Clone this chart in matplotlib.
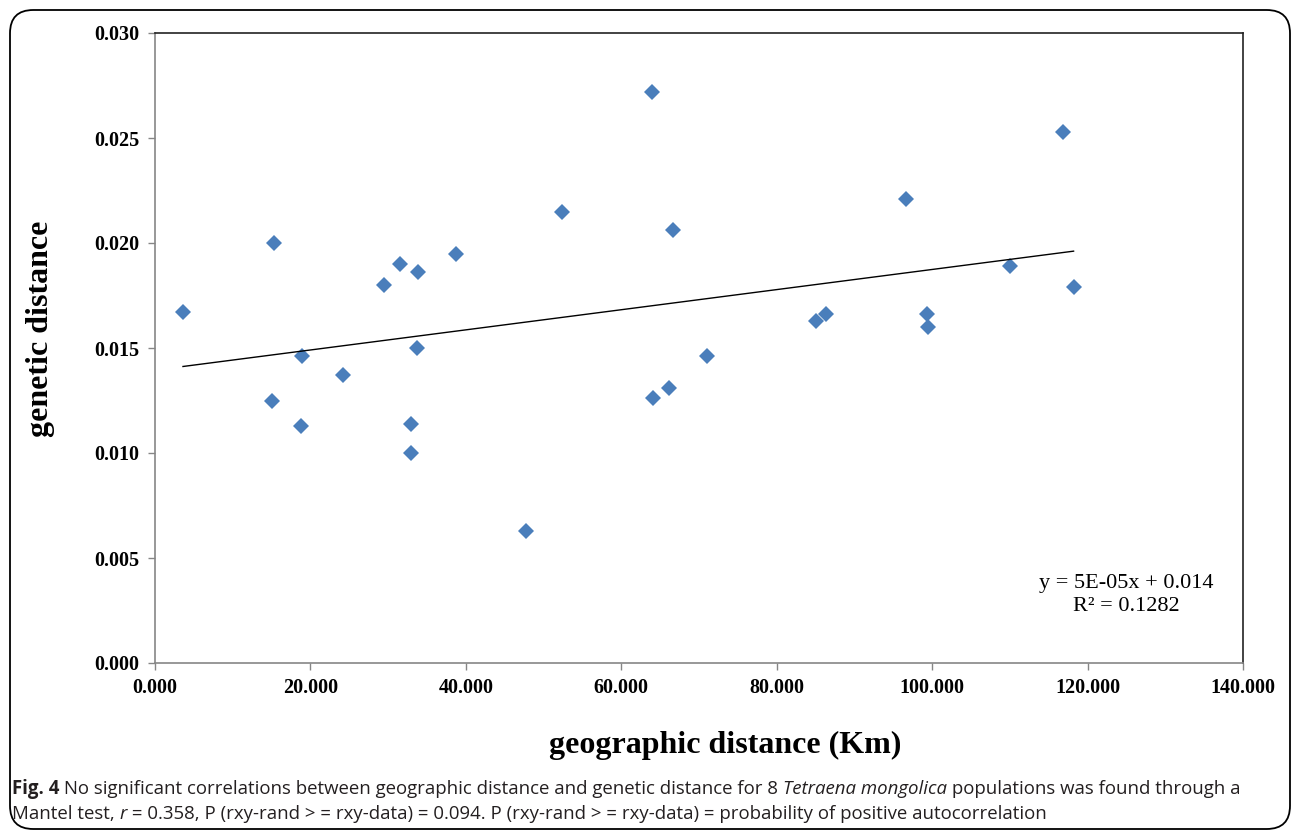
import numpy as np
import matplotlib
matplotlib.use('Agg')
import matplotlib.pyplot as plt
from matplotlib.patches import FancyBboxPatch
from matplotlib.ticker import FormatStrFormatter

# pairwise distances between the 8 populations
geo_dist = [3.6, 15.3, 15.0, 18.8, 18.9, 24.2, 29.5, 31.5, 33.9, 33.7,
            32.9, 32.9, 38.7, 64.0, 52.4, 66.7, 71.0, 66.2, 64.1, 47.8,
            116.8, 96.7, 85.0, 86.3, 99.3, 99.5, 110.0, 118.2]
gen_dist = [0.0167, 0.0200, 0.0125, 0.0113, 0.0146, 0.0137, 0.0180, 0.0190,
            0.0186, 0.0150, 0.0114, 0.0100, 0.0195, 0.0272, 0.0215, 0.0206,
            0.0146, 0.0131, 0.0126, 0.0063, 0.0253, 0.0221, 0.0163, 0.0166,
            0.0166, 0.0160, 0.0189, 0.0179]

x_ticks = [0, 20, 40, 60, 80, 100, 120, 140]
y_ticks = [0.0, 0.005, 0.010, 0.015, 0.020, 0.025, 0.030]
eq_text = 'y = 5E-05x + 0.014\nR\u00b2 = 0.1282'

W, H = 1293, 831
fig = plt.figure(figsize=(W / 100, H / 100), dpi=100)

# outer rounded frame
frame = FancyBboxPatch((10 / W, 2 / H), 1280 / W, 819 / H,
                       boxstyle='round,pad=0,rounding_size=0.018',
                       transform=fig.transFigure, fill=False,
                       edgecolor='black', linewidth=1.3, mutation_aspect=W / H)
fig.patches.append(frame)

ax = fig.add_axes([155 / W, (H - 663) / H, (1243 - 155) / W, (663 - 33) / H])

ax.plot(geo_dist, gen_dist, linestyle='none', marker='D', markersize=8,
        color='#4a7ebb', markeredgewidth=0)

# linear trend line
slope, icpt = np.polyfit(geo_dist, gen_dist, 1)
xs = np.array([min(geo_dist), max(geo_dist)])
ax.plot(xs, slope * xs + icpt, color='black', linewidth=1)

ax.set_xlim(0, 140)
ax.set_ylim(0, 0.030)
ax.set_xticks(x_ticks)
ax.set_yticks(y_ticks)
ax.xaxis.set_major_formatter(FormatStrFormatter('%.3f'))
ax.yaxis.set_major_formatter(FormatStrFormatter('%.3f'))

serif = 'Liberation Serif'
for lab in ax.get_xticklabels() + ax.get_yticklabels():
    lab.set_fontfamily(serif)
    lab.set_fontweight('bold')
    lab.set_fontsize(14.5)
ax.tick_params(direction='out', length=5, width=1, color='#868686', pad=6)

for s in ['left', 'bottom']:
    ax.spines[s].set_color('#868686')
    ax.spines[s].set_linewidth(1.2)
for s in ['top', 'right']:
    ax.spines[s].set_color('#222222')
    ax.spines[s].set_linewidth(1.2)

ax.set_xlabel('geographic distance (Km)', fontfamily=serif, fontweight='bold',
              fontsize=23)
ax.set_ylabel('genetic distance', fontfamily=serif, fontweight='bold',
              fontsize=23)
ax.xaxis.set_label_coords(0.524, -0.108)
ax.yaxis.set_label_coords(-0.092, 0.53)

fig.text(1126 / W, 1 - 595 / H, eq_text, ha='center', va='center',
         fontfamily=serif, fontsize=16, linespacing=1.3)

# caption with mixed styles, laid out piece by piece
cap_font = 'Open Sans'
line1 = [('Fig. 4', 'bold', 'normal'),
         (' No significant correlations between geographic distance and genetic distance for 8 ', 'normal', 'normal'),
         ('Tetraena mongolica', 'normal', 'italic'),
         (' populations was found through a', 'normal', 'normal')]
line2 = [('Mantel test, ', 'normal', 'normal'),
         ('r', 'normal', 'italic'),
         (' = 0.358, P (rxy-rand > = rxy-data) = 0.094. P (rxy-rand > = rxy-data) = probability of positive autocorrelation', 'normal', 'normal')]

renderer = fig.canvas.get_renderer()


def draw_line(pieces, x0, y0, size):
    x = x0
    for txt, wt, st in pieces:
        t = fig.text(x / W, 1 - y0 / H, txt, fontfamily=cap_font, fontweight=wt,
                     fontstyle=st, fontsize=size, color='#231f20', va='baseline')
        bb = t.get_window_extent(renderer)
        x = bb.x1
    return x


draw_line(line1, 12, 794, 13.4)
draw_line(line2, 12, 819, 13.4)

fig.savefig('out.png', dpi=100)
